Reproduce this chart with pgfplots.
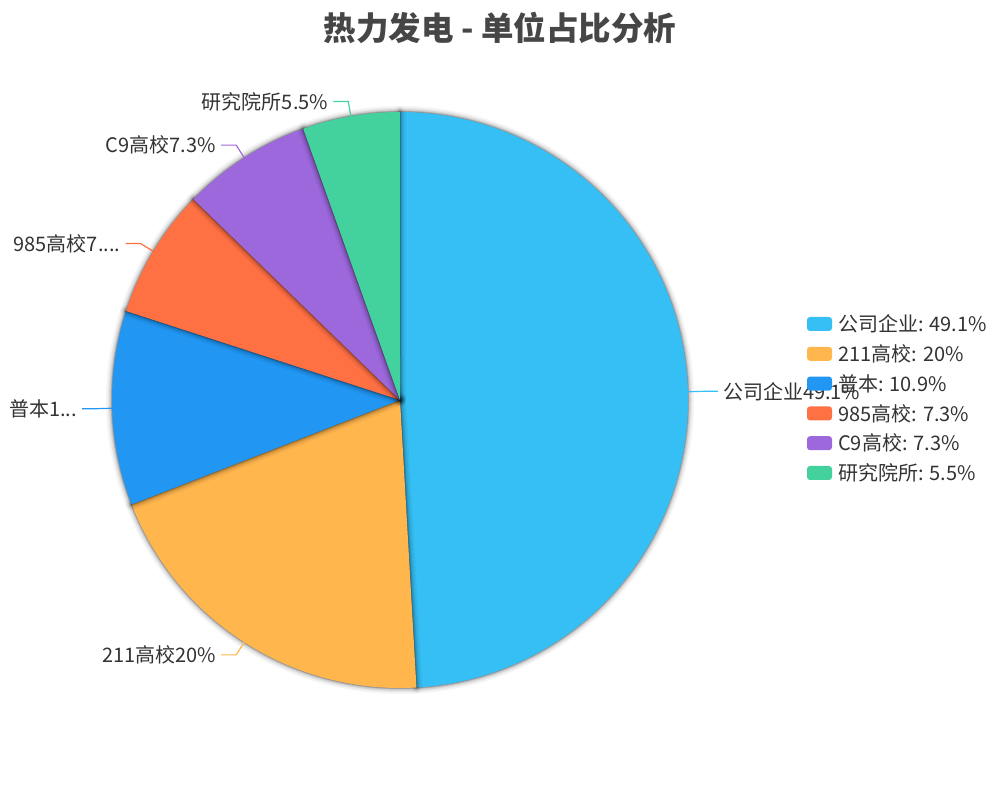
\documentclass[border=0pt]{standalone}
\usepackage{fontspec}
\setmainfont{Noto Sans CJK SC}
\usepackage{pgfplots}
\usepackage{pgfplotstable}
\pgfplotsset{compat=1.18}

\definecolor{cA}{HTML}{36BFF4}
\definecolor{cB}{HTML}{FFB64D}
\definecolor{cC}{HTML}{2196F3}
\definecolor{cD}{HTML}{FF7043}
\definecolor{cE}{HTML}{9C68DC}
\definecolor{cF}{HTML}{43D19E}
\definecolor{txt}{HTML}{333333}
\definecolor{ttl}{HTML}{464646}

% unit counts, total 55
\pgfplotstableread{
name count col
公司企业 27 cA
211高校 11 cB
普本 6 cC
985高校 4 cD
C9高校 4 cE
研究院所 3 cF
}\piedata

% labels on the pie (some are cut short, as in the original)
\def\labtext#1{\ifcase#1 公司企业49.1\%\or 211高校20\%\or 普本1...\or 985高校7....\or C9高校7.3\%\or 研究院所5.5\%\fi}

\begin{document}
\begin{tikzpicture}
\begin{axis}[
    width=1000pt, height=800pt, scale only axis,
    xmin=0, xmax=1000, ymin=0, ymax=800,
    hide axis, clip=false]
\pgfplotsextra{%
  % slices, clockwise from the top
  \def\acc{90}%
  \pgfplotsforeachungrouped \i in {0,...,5}{%
    \pgfplotstablegetelem{\i}{count}\of\piedata \let\cnt\pgfplotsretval
    \pgfplotstablegetelem{\i}{col}\of\piedata \let\col\pgfplotsretval
    \pgfmathsetmacro\angS{\acc}%
    \pgfmathsetmacro\angE{\acc-\cnt/55*360}%
    \let\acc\angE
    \foreach \w/\o in {12/0.04,8.5/0.06,5.5/0.09,3/0.13,1.4/0.2}{%
      \draw[line width=\w pt,black,opacity=\o,line join=round]
        (axis cs:400,400) -- ++(\angS:288pt)
        arc[start angle=\angS,end angle=\angE,radius=288pt] -- cycle;}
    \fill[\col] (axis cs:400,400) -- ++(\angS:288pt)
        arc[start angle=\angS,end angle=\angE,radius=288pt] -- cycle;
  }%
  % leader lines and labels
  \def\acc{90}%
  \pgfplotsforeachungrouped \i in {0,...,5}{%
    \pgfplotstablegetelem{\i}{count}\of\piedata \let\cnt\pgfplotsretval
    \pgfplotstablegetelem{\i}{col}\of\piedata \let\col\pgfplotsretval
    \pgfmathsetmacro\angE{\acc-\cnt/55*360}%
    \pgfmathsetmacro\mid{(\acc+\angE)/2}%
    \let\acc\angE
    \pgfmathsetmacro\cm{cos(\mid)}%
    \ifdim\cm pt>0pt \def\sgn{1}\def\anc{west}\else\def\sgn{-1}\def\anc{east}\fi
    \pgfmathsetmacro\ex{400+288*cos(\mid)}%
    \pgfmathsetmacro\ey{400+288*sin(\mid)}%
    \pgfmathsetmacro\kx{400+303*cos(\mid)}%
    \pgfmathsetmacro\ky{400+303*sin(\mid)}%
    \pgfmathsetmacro\hx{\kx+15*\sgn}%
    \pgfmathsetmacro\tx{\hx+5*\sgn}%
    \draw[\col,line width=1.2pt] (axis cs:\ex,\ey) -- (axis cs:\kx,\ky) -- (axis cs:\hx,\ky);
    \node[anchor=\anc,inner sep=0pt,text=txt,font=\fontsize{20}{24}\selectfont]
      at (axis cs:\tx,\ky) {\labtext{\i}};
  }%
  % legend
  \pgfplotsforeachungrouped \i in {0,...,5}{%
    \pgfplotstablegetelem{\i}{count}\of\piedata \let\cnt\pgfplotsretval
    \pgfplotstablegetelem{\i}{col}\of\piedata \let\col\pgfplotsretval
    \pgfplotstablegetelem{\i}{name}\of\piedata \let\nm\pgfplotsretval
    \pgfmathsetmacro\pct{\cnt/55*100}%
    \pgfmathsetmacro\ly{476-29.8*\i}%
    \fill[\col,rounded corners=3pt] (axis cs:807,\ly-7) rectangle (axis cs:832,\ly+7);
    \node[anchor=west,inner sep=0pt,text=txt,font=\fontsize{20}{24}\selectfont]
      at (axis cs:838,\ly) {\nm: \pgfmathprintnumber[fixed,precision=1,assume math mode=true]{\pct}\%};
  }%
  \node[text=ttl,font=\bfseries\fontsize{32.5}{38}\selectfont] at (axis cs:500,772)
    {热力发电 - 单位占比分析};
}
\end{axis}
\pgfresetboundingbox
\useasboundingbox (0,0) rectangle (1000pt,800pt);
\end{tikzpicture}
\end{document}
